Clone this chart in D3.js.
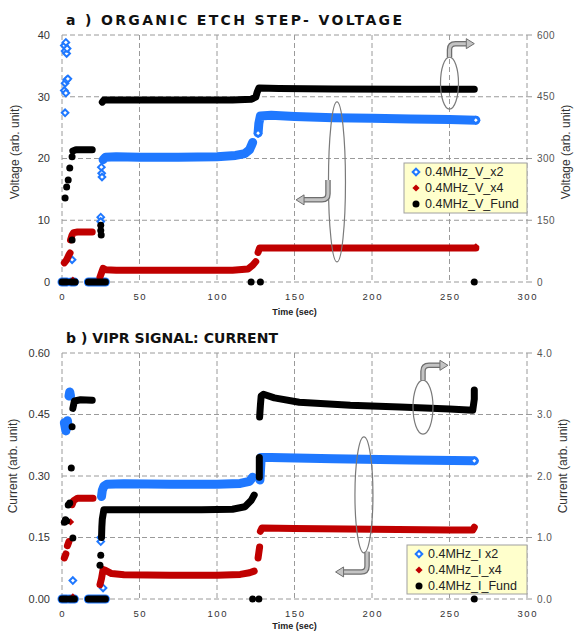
<!DOCTYPE html>
<html>
<head>
<meta charset="utf-8">
<title>VIPR voltage / current</title>
<style>
  body { margin: 0; background: #fff; }
  svg text { font-family: "Liberation Sans", Arial, sans-serif; }
  .grid line { stroke: #9a9a9a; stroke-width: 1; stroke-dasharray: 5,3; }
  .tickL { font-size: 11px; fill: #333; }
  .tickR { font-size: 10px; fill: #555; letter-spacing: 0.5px; }
  .tickX { font-size: 9.5px; fill: #333; letter-spacing: 1.6px; }
  .atitle { font-size: 12px; fill: #333; }
  .xtitle { font-size: 9px; font-weight: bold; fill: #222; }
  .ptitle { font-family: "DejaVu Sans", sans-serif; font-size: 14px; font-weight: bold; fill: #111; }
  .leg { font-size: 12.5px; fill: #222; }
</style>
</head>
<body>
<svg id="chart" width="577" height="632"></svg>
<script src="https://d3js.org/d3.v7.min.js"></script>
<script>
// ---- tick labels ----
const xTicks = [0, 50, 100, 150, 200, 250, 300];
const voltLeftTicks = [0, 10, 20, 30, 40];
const voltRightTicks = [0, 150, 300, 450, 600];
const curLeftTicks = [0, 0.15, 0.30, 0.45, 0.60];
const curRightTicks = [0, 1, 2, 3, 4];

const voltLegend = ['0.4MHz_V_x2', '0.4MHz_V_x4', '0.4MHz_V_Fund'];
const curLegend = ['0.4MHz_I x2', '0.4MHz_I_x4', '0.4MHz_I_Fund'];

// ---- panel a: voltage (x2, x4 on left axis; Fund on right axis) ----
const voltX2Runs = [
  [[0, 0], [3, 0]], [[6, 0], [8, 0]], [[17, 0], [28, 0]],
  [[26.5, 19.8], [28, 20.2], [35, 20.3], [50, 20.2], [75, 20.2], [100, 20.3], [112, 20.5], [118, 20.8], [121, 21.4], [123, 22.6]],
  [[126.5, 24.1], [127, 25.7], [128, 26.9], [135, 27.0], [150, 26.8], [175, 26.6], [200, 26.5], [225, 26.4], [250, 26.3], [267, 26.2]]
];
const voltX2Dots = [
  [1.5, 38.3], [2, 37.4], [2.5, 38.8], [3, 37.0], [3.3, 37.8],
  [1.5, 31.0], [2, 32.2], [2.5, 30.6], [3, 32.7], [3.8, 32.9], [2, 27.4], [6.5, 3.6],
  [25, 10.5], [25, 9.8], [25.4, 18.6], [25.6, 17.6], [25.8, 17.0], [126.5, 24.1], [267, 26.2]
];
const voltX4Runs = [
  [[1.5, 3.1], [3, 3.6], [4.5, 4.4], [5.2, 4.7]],
  [[5.5, 6.8], [6.5, 7.6], [7.5, 8.0], [10, 8.1], [15, 8.1], [19.5, 8.1]],
  [[24.5, 0.8], [25.5, 1.5], [26.5, 2.2], [28, 2.0], [35, 1.9], [60, 1.9], [90, 1.9], [110, 1.9], [120, 2.1], [123, 2.7], [125, 3.3]],
  [[126.5, 4.8], [127.5, 5.5], [140, 5.5], [175, 5.5], [225, 5.5], [267, 5.5]]
];
const voltX4Dots = [[7, 0.3], [267, 5.7]];
const voltFundRuns = [
  [[0, 0], [3, 0]], [[6, 0], [8.5, 0]], [[17, 0], [28, 0]],
  [[7, 318], [9, 321], [14, 321], [19.5, 321]],
  [[26, 437], [27, 442], [50, 442], [80, 442], [110, 442], [122, 444], [125, 449], [126, 462], [127, 471], [140, 470], [175, 469], [225, 468], [266, 468]]
];
const voltFundDots = [
  [2, 204], [3, 231], [4, 248], [5, 277], [6.5, 304], [6.5, 102],
  [25, 138], [25, 125], [25.3, 114], [122, 0], [128, 0], [266, 0]
];

// ---- panel b: current (x2, x4 on left axis; Fund on right axis) ----
const curX2Runs = [
  [[0, 0], [3, 0]], [[5, 0], [8, 0]], [[17, 0], [28, 0]],
  [[1.5, 0.43], [2.5, 0.41], [3.5, 0.435], [4, 0.42]],
  [[4.5, 0.495], [5, 0.505], [5.5, 0.495]],
  [[25.5, 0.25], [26, 0.265], [27, 0.275], [29, 0.28], [40, 0.281], [70, 0.28], [100, 0.28], [115, 0.282], [121, 0.287], [123, 0.297]],
  [[127.7, 0.29], [128, 0.31], [128.5, 0.345], [135, 0.345], [175, 0.342], [225, 0.339], [266, 0.337]]
];
const curX2Dots = [[7, 0.045], [25, 0.15], [25, 0.14], [26.5, 0.027], [266, 0.337]];
const curX4Runs = [
  [[1.5, 0.10], [2.5, 0.11]],
  [[3.5, 0.13], [4.5, 0.14]],
  [[6.5, 0.23], [7.5, 0.24], [10, 0.246], [15, 0.246], [20, 0.246]],
  [[24.5, 0.035], [25.5, 0.05], [26.5, 0.072], [28, 0.07], [32, 0.062], [40, 0.059], [70, 0.058], [100, 0.058], [115, 0.06], [121, 0.064], [124, 0.068]],
  [[126.5, 0.10], [127.5, 0.127]],
  [[128, 0.165], [129, 0.173], [150, 0.172], [200, 0.170], [250, 0.168], [265, 0.168], [266, 0.175]]
];
const curX4Dots = [[5.5, 0.188], [7, 0.005]];
const curFundRuns = [
  [[0, 0], [3, 0]], [[5, 0], [8, 0]], [[17, 0], [28, 0]],
  [[7, 3.1], [8, 3.22], [12, 3.24], [19.5, 3.23]],
  [[25.5, 1.0], [25.7, 1.17], [26, 1.3], [27, 1.45], [35, 1.45], [60, 1.45], [90, 1.45], [110, 1.46], [118, 1.5], [122, 1.6], [124, 1.69]],
  [[127.3, 1.98], [127.3, 2.3]],
  [[127.5, 2.96], [128, 3.15], [128.5, 3.3], [130, 3.33], [137, 3.27], [153, 3.2], [186, 3.15], [218, 3.12], [250, 3.09], [265, 3.07], [266, 3.25], [266, 3.4]]
];
const curFundDots = [
  [1.5, 1.25], [2.2, 1.29], [3, 1.27], [4, 1.53], [5, 1.56], [6, 2.13], [6.5, 2.8], [7, 0.99],
  [24.5, 0.55], [25, 0.71], [123, 0], [127, 0], [266, 0]
];

// ellipse + arrow call-outs: [t, value on left axis], arrow = start, corner, tip
const voltNotes = [
  { c: [250, 32.2], rx: 9, ry: 26, arrow: [[250, 36.4], [250, 38.6], [266, 38.6]] },
  { c: [177.4, 16.2], rx: 8.5, ry: 80, arrow: [[171.6, 16.5], [171.6, 13.3], [151, 13.3]] }
];
const curNotes = [
  { c: [232.9, 0.468], rx: 10, ry: 27, arrow: [[232.9, 0.534], [232.9, 0.570], [249, 0.570]] },
  { c: [194.8, 0.254], rx: 9, ry: 58, arrow: [[196.8, 0.115], [196.8, 0.066], [176.5, 0.066]] }
];

const BLUE = '#1f78ff', RED = '#c00000', BLACK = '#000';
const svg = d3.select('#chart');

// square diamond, half-diagonal s
const diamond = s => `M0,${-s}L${s},0L0,${s}L${-s},0Z`;

function drawMarker(g, kind, color, px, py) {
  if (kind === 'circle') {
    g.append('circle').attr('cx', px).attr('cy', py).attr('r', 3.5).attr('fill', color);
  } else if (kind === 'open') {
    g.append('path').attr('d', diamond(3.3))
      .attr('transform', `translate(${px},${py})`)
      .attr('fill', '#fff').attr('stroke', color).attr('stroke-width', 2);
  } else {
    g.append('path').attr('d', diamond(3.6))
      .attr('transform', `translate(${px},${py})`).attr('fill', color);
  }
}

function pipeArrow(g, pts) {
  const [s, c, e] = pts;
  const r = 6;
  const dx = Math.sign(e[0] - c[0]), dy = Math.sign(c[1] - s[1]);
  const headLen = 8;
  const d = `M${s[0]},${s[1]} L${c[0]},${c[1] - dy * r} Q${c[0]},${c[1]} ${c[0] + dx * r},${c[1]} L${e[0] - dx * headLen},${e[1]}`;
  g.append('path').attr('d', d).attr('fill', 'none').attr('stroke', '#6e6e6e').attr('stroke-width', 5.5);
  g.append('path').attr('d', d).attr('fill', 'none').attr('stroke', '#c4c4c4').attr('stroke-width', 3);
  const b = e[0] - dx * headLen;
  g.append('path')
    .attr('d', `M${b},${e[1] - 5} L${e[0]},${e[1]} L${b},${e[1] + 5} Z`)
    .attr('fill', '#c4c4c4').attr('stroke', '#6e6e6e').attr('stroke-width', 1);
}

function drawPanel(cfg) {
  const x = d3.scaleLinear().domain([0, 300]).range([cfg.left, cfg.right]);
  const yL = d3.scaleLinear().domain(d3.extent(cfg.leftTicks)).range([cfg.bottom, cfg.top]);
  const yR = d3.scaleLinear().domain(d3.extent(cfg.rightTicks)).range([cfg.bottom, cfg.top]);
  const g = svg.append('g');

  // dashed grid and frame
  const grid = g.append('g').attr('class', 'grid');
  grid.selectAll('.v').data(xTicks).enter().append('line')
    .attr('x1', d => x(d)).attr('x2', d => x(d)).attr('y1', cfg.top).attr('y2', cfg.bottom);
  grid.selectAll('.h').data(cfg.leftTicks).enter().append('line')
    .attr('x1', cfg.left).attr('x2', cfg.right).attr('y1', d => yL(d)).attr('y2', d => yL(d));

  // right tick marks
  g.selectAll('.rt').data(cfg.rightTicks).enter().append('line')
    .attr('x1', cfg.right).attr('x2', cfg.right + 5).attr('y1', d => yR(d)).attr('y2', d => yR(d))
    .attr('stroke', '#999');

  // tick labels
  g.selectAll('.tl').data(cfg.leftTicks).enter().append('text').attr('class', 'tickL')
    .attr('x', cfg.left - 12).attr('y', d => yL(d)).attr('dy', '0.35em').attr('text-anchor', 'end')
    .text(cfg.leftFmt);
  g.selectAll('.tr').data(cfg.rightTicks).enter().append('text').attr('class', 'tickR')
    .attr('x', cfg.right + 10).attr('y', d => yR(d)).attr('dy', '0.35em')
    .text(cfg.rightFmt);
  g.selectAll('.tx').data(xTicks).enter().append('text').attr('class', 'tickX')
    .attr('x', d => x(d) + 0.8).attr('y', cfg.bottom + 15).attr('dy', '0.35em').attr('text-anchor', 'middle')
    .text(d => d);

  // titles
  g.append('text').attr('class', 'xtitle').attr('x', (cfg.left + cfg.right) / 2).attr('y', cfg.bottom + cfg.xTitleDy)
    .attr('text-anchor', 'middle').text('Time (sec)');
  g.append('text').attr('class', 'atitle').attr('text-anchor', 'middle')
    .attr('transform', `translate(${cfg.leftTitleX},${cfg.titleY}) rotate(-90)`).text(cfg.yTitle);
  g.append('text').attr('class', 'atitle').attr('text-anchor', 'middle')
    .attr('transform', `translate(${cfg.rightTitleX},${cfg.titleY}) rotate(-90)`).text(cfg.yTitle);
  g.append('text').attr('class', 'ptitle').attr('x', cfg.left + 4).attr('y', cfg.top - 10)
    .attr('textLength', cfg.titleLen).attr('lengthAdjust', 'spacing').text(cfg.title);

  // series
  const line = sc => d3.line().x(d => x(d[0])).y(d => sc(d[1]));
  cfg.series.forEach(s => {
    const sc = s.axis === 'right' ? yR : yL;
    const sg = g.append('g');
    s.runs.forEach(run => {
      sg.append('path').attr('d', line(sc)(run)).attr('fill', 'none')
        .attr('stroke', s.color).attr('stroke-width', s.width)
        .attr('stroke-linecap', 'round').attr('stroke-linejoin', 'round');
    });
    s.dots.forEach(d => drawMarker(sg, s.marker, s.color, x(d[0]), sc(d[1])));
  });

  // call-outs
  cfg.notes.forEach(n => {
    g.append('ellipse').attr('cx', x(n.c[0])).attr('cy', yL(n.c[1])).attr('rx', n.rx).attr('ry', n.ry)
      .attr('fill', 'none').attr('stroke', '#7a7a7a').attr('stroke-width', 1.2);
    pipeArrow(g, n.arrow.map(p => [x(p[0]), yL(p[1])]));
  });

  // legend
  const L = cfg.legend;
  const lg = g.append('g');
  lg.append('rect').attr('x', L.x).attr('y', L.y).attr('width', L.w).attr('height', L.h)
    .attr('fill', '#ffffcc').attr('stroke', '#a0a0a0');
  cfg.series.forEach((s, i) => {
    const yy = L.y + 9 + i * 16;
    drawMarker(lg, s.marker, s.color, L.x + 12, yy);
    lg.append('text').attr('class', 'leg').attr('x', L.x + 21).attr('y', yy).attr('dy', '0.35em')
      .text(L.labels[i]);
  });
}

drawPanel({
  left: 62, right: 527, top: 35, bottom: 282,
  leftTicks: voltLeftTicks, rightTicks: voltRightTicks,
  leftFmt: d => d, rightFmt: d => d,
  yTitle: 'Voltage  (arb. unit)', leftTitleX: 19, rightTitleX: 570, titleY: 152, xTitleDy: 33,
  title: 'a )  ORGANIC ETCH STEP- VOLTAGE', titleLen: 336,
  series: [
    { color: BLUE, marker: 'open', axis: 'left', width: 9, runs: voltX2Runs, dots: voltX2Dots },
    { color: RED, marker: 'fill', axis: 'left', width: 7, runs: voltX4Runs, dots: voltX4Dots },
    { color: BLACK, marker: 'circle', axis: 'right', width: 7, runs: voltFundRuns, dots: voltFundDots }
  ],
  notes: voltNotes,
  legend: { x: 404, y: 163, w: 123, h: 50, labels: voltLegend }
});

drawPanel({
  left: 62, right: 527, top: 353, bottom: 599,
  leftTicks: curLeftTicks, rightTicks: curRightTicks,
  leftFmt: d3.format('.2f'), rightFmt: d3.format('.1f'),
  yTitle: 'Current (arb. unit)', leftTitleX: 17, rightTitleX: 567, titleY: 466, xTitleDy: 30,
  title: 'b )  VIPR SIGNAL: CURRENT', titleLen: 212,
  series: [
    { color: BLUE, marker: 'open', axis: 'left', width: 9, runs: curX2Runs, dots: curX2Dots },
    { color: RED, marker: 'fill', axis: 'left', width: 7, runs: curX4Runs, dots: curX4Dots },
    { color: BLACK, marker: 'circle', axis: 'right', width: 7, runs: curFundRuns, dots: curFundDots }
  ],
  notes: curNotes,
  legend: { x: 407, y: 545, w: 120, h: 49, labels: curLegend }
});
</script>
</body>
</html>
